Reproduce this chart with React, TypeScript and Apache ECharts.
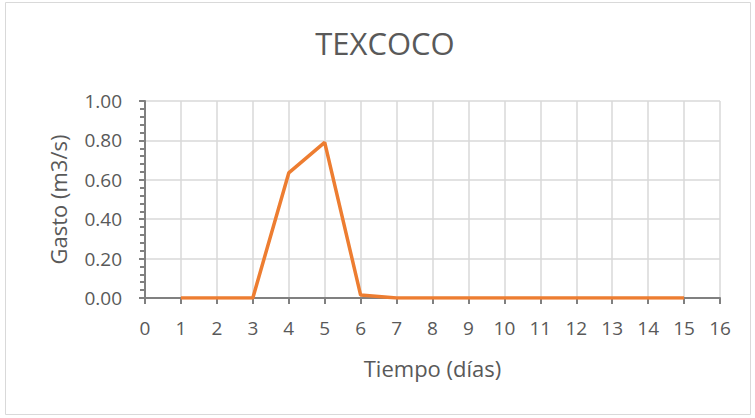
import React, { useEffect, useRef } from "react";
import * as echarts from "echarts";

const days = [1, 2, 3, 4, 5, 6, 7, 8, 9, 10, 11, 12, 13, 14, 15];
const gasto = [0, 0, 0, 0.635, 0.79, 0.015, 0, 0, 0, 0, 0, 0, 0, 0, 0];
const titleText = "TEXCOCO";
const xName = "Tiempo (días)";
const yName = "Gasto (m3/s)";

export default function App() {
  const ref = useRef<HTMLDivElement>(null);
  useEffect(() => {
    const chart = echarts.init(ref.current!, null, { renderer: "svg" });
    const font = "Open Sans";
    chart.setOption({
      animation: false,
      backgroundColor: "#ffffff",
      textStyle: { fontFamily: font },
      title: {
        text: titleText,
        left: 380,
        top: 22,
        textAlign: "center",
        textStyle: { fontFamily: font, fontSize: 31, fontWeight: "normal", color: "#595959" },
      },
      graphic: [
        {
          type: "rect",
          shape: { x: 5.5, y: 2.5, width: 745, height: 412 },
          style: { fill: "none", stroke: "#d9d9d9", lineWidth: 1 },
          silent: true,
        },
      ],
      grid: { left: 145, right: 35, top: 101, bottom: 120 },
      xAxis: {
        type: "value",
        min: 0,
        max: 16,
        interval: 1,
        name: xName,
        nameLocation: "middle",
        nameGap: 59,
        nameTextStyle: { fontFamily: font, fontSize: 22, color: "#595959" },
        axisLine: { show: true, onZero: false, lineStyle: { color: "#808080", width: 2 } },
        axisTick: { show: true, inside: false, length: 6, lineStyle: { color: "#808080", width: 2 } },
        axisLabel: { fontFamily: font, fontSize: 19, color: "#595959", margin: 20 },
        splitLine: { show: true, lineStyle: { color: "#d9d9d9", width: 1.5 } },
      },
      yAxis: {
        type: "value",
        min: 0,
        max: 1,
        interval: 0.2,
        name: yName,
        nameLocation: "middle",
        nameGap: 76,
        nameTextStyle: { fontFamily: font, fontSize: 22, color: "#595959" },
        axisLine: { show: true, lineStyle: { color: "#808080", width: 2 } },
        axisTick: { show: true, inside: false, length: 6, lineStyle: { color: "#808080", width: 2 } },
        minorTick: { show: true, splitNumber: 5, length: 5, lineStyle: { color: "#808080", width: 2 } },
        axisLabel: {
          fontFamily: font,
          fontSize: 19,
          color: "#595959",
          margin: 23,
          formatter: (v: number) => v.toFixed(2),
        },
        splitLine: { show: true, lineStyle: { color: "#d9d9d9", width: 1.5 } },
      },
      series: [
        {
          type: "line",
          data: days.map((d, i) => [d, gasto[i]]),
          showSymbol: false,
          lineStyle: { color: "#ED7D31", width: 3.5 },
          itemStyle: { color: "#ED7D31" },
        },
      ],
    });
    return () => chart.dispose();
  }, []);
  return (
    <div
      ref={ref}
      style={{ position: "fixed", left: 0, top: 0, width: 755, height: 418 }}
    />
  );
}
